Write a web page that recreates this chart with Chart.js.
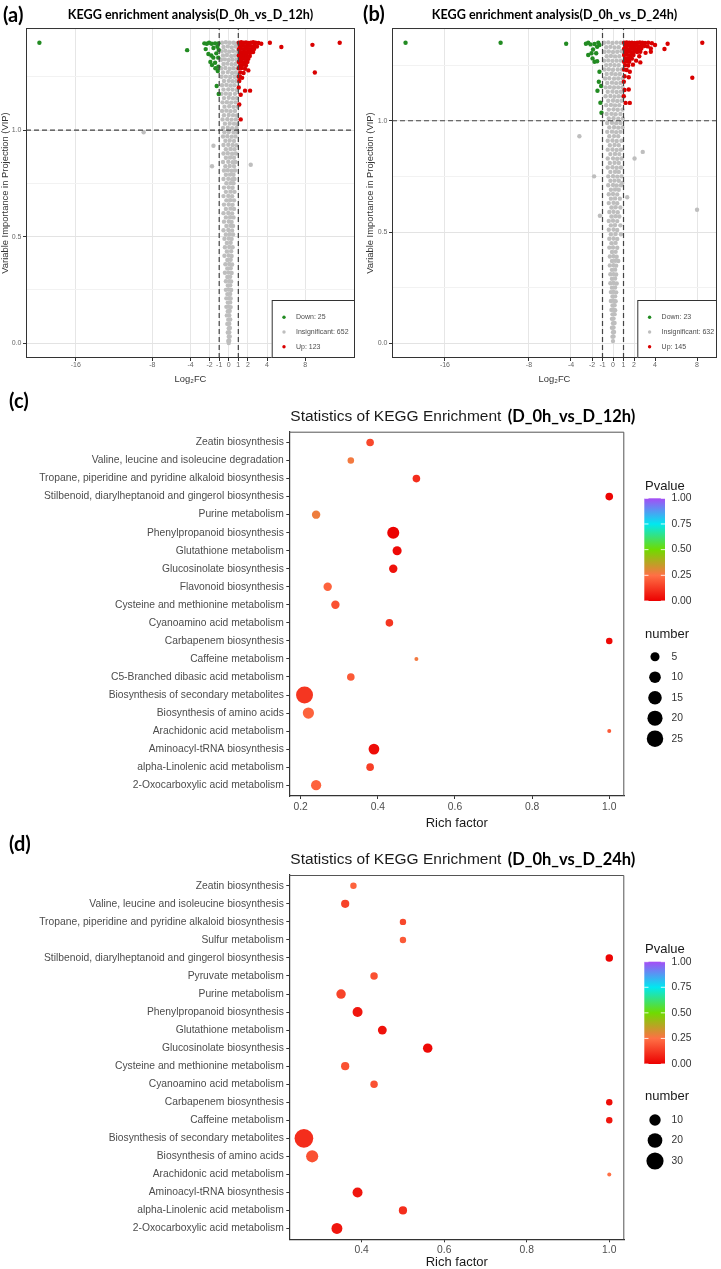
<!DOCTYPE html>
<html>
<head>
<meta charset="utf-8">
<script src="https://cdn.jsdelivr.net/npm/chart.js@4.4.1/dist/chart.umd.min.js"></script>
<style>
  html, body { margin: 0; padding: 0; background: #fff; }
  #page { position: relative; width: 721px; height: 1269px; overflow: hidden; }
  canvas { position: absolute; }
  .tag { position: absolute; font: bold 20px Lato, "Open Sans", sans-serif; line-height: 20px; color: #000; }
</style>
</head>
<body>
<div id="page">
  <canvas id="volA" width="360" height="385" style="left:0;top:0"></canvas>
  <canvas id="volB" width="361" height="385" style="left:360px;top:0"></canvas>
  <canvas id="enrC" width="721" height="445" style="left:0;top:385px"></canvas>
  <canvas id="enrD" width="721" height="439" style="left:0;top:830px"></canvas>
  <div class="tag" style="left:3px;top:4px">(a)</div>
  <div class="tag" style="left:363px;top:3px">(b)</div>
  <div class="tag" style="left:9px;top:390px">(c)</div>
  <div class="tag" style="left:9px;top:833px">(d)</div>
</div>
<script>
// ---------------- volcano plots (a), (b) ----------------
const fcTicks = [-16, -8, -4, -2, -1, 0, 1, 2, 4, 8];
const vipTicks = [0, 0.25, 0.5, 0.75, 1, 1.25];
const fcCut = [-1, 1];
const vipCut = 1;
const groupNames = ['Down', 'Insignificant', 'Up'];
const countsA = [25, 652, 123];
const countsB = [23, 632, 145];

// [log2FC, VIP] pairs
const downA = [[-19.8,1.41],[-4.35,1.375],[-2.55,1.407],[-2.3,1.405],[-2.06,1.41],[-1.78,1.405],[-1.43,1.407],[-1.09,1.407],
  [-1.19,1.391],[-1.05,1.376],[-2.41,1.38],[-2.13,1.357],[-1.82,1.35],[-1.61,1.34],[-1.92,1.32],[-1.75,1.305],[-1.43,1.316],
  [-1.09,1.297],[-1.15,1.277],[-1.26,1.207],[-1.05,1.169],[-1.3,1.36],[-1.6,1.385],[-1.1,1.34],[-1.4,1.29]];
const upA = [[1.05,1.41],[1.3,1.412],[1.55,1.41],[1.8,1.411],[2.05,1.409],[2.3,1.41],[2.55,1.412],[2.8,1.41],[3.1,1.409],[3.4,1.405],
  [1.15,1.395],[1.45,1.397],[1.7,1.394],[1.95,1.396],[2.2,1.395],[2.45,1.393],[2.7,1.396],[2.95,1.392],
  [1.05,1.38],[1.3,1.382],[1.6,1.379],[1.85,1.381],[2.1,1.38],[2.4,1.378],[2.65,1.381],
  [1.2,1.365],[1.5,1.366],[1.75,1.363],[2.0,1.365],[2.3,1.364],[2.55,1.366],
  [1.05,1.35],[1.35,1.351],[1.65,1.349],[1.9,1.35],[2.2,1.348],
  [1.2,1.335],[1.5,1.336],[1.8,1.334],[2.05,1.335],
  [1.05,1.32],[1.35,1.321],[1.65,1.319],[1.95,1.32],
  [1.2,1.305],[1.5,1.306],[1.8,1.304],
  [1.05,1.29],[1.35,1.291],[1.7,1.288],[2.05,1.28],
  [1.2,1.27],[1.55,1.268],[1.05,1.25],[1.18,1.25],[1.4,1.245],[1.1,1.23],
  [1.05,1.2],[1.7,1.185],[2.23,1.185],[1.25,1.166],[1.1,1.12],[1.25,1.05],
  [4.3,1.41],[5.5,1.39],[8.75,1.40],[11.6,1.41],[9.0,1.27]];
const insigA = [[-0.7,1.41],[-0.3,1.412],[0.1,1.41],[0.5,1.41],[0.85,1.408],
  [-0.55,1.39],[-0.1,1.393],[0.3,1.388],[0.7,1.392],
  [-0.75,1.37],[-0.35,1.372],[0.05,1.368],[0.45,1.371],[0.88,1.369],
  [-0.6,1.35],[-0.2,1.352],[0.25,1.348],[0.65,1.35],
  [-0.8,1.33],[-0.4,1.332],[0.0,1.329],[0.4,1.331],[0.82,1.33],
  [-0.55,1.31],[-0.15,1.312],[0.3,1.309],[0.7,1.31],
  [-0.78,1.29],[-0.35,1.291],[0.1,1.288],[0.5,1.29],[0.9,1.29],
  [-0.6,1.27],[-0.1,1.272],[0.35,1.268],[0.75,1.27],
  [-0.75,1.25],[-0.3,1.251],[0.15,1.249],[0.6,1.25],[0.88,1.252],
  [-0.5,1.23],[0.0,1.231],[0.4,1.229],[0.8,1.23],
  [-0.7,1.21],[-0.25,1.212],[0.2,1.209],[0.6,1.21],
  [-0.55,1.19],[-0.05,1.191],[0.4,1.19],[0.85,1.188],
  [-0.75,1.17],[-0.3,1.171],[0.15,1.169],[0.65,1.17],
  [-0.5,1.15],[0.0,1.152],[0.45,1.149],[0.85,1.15],
  [-0.65,1.13],[-0.2,1.131],[0.25,1.129],[0.7,1.13],
  [-0.45,1.11],[0.05,1.112],[0.5,1.109],[0.9,1.11],
  [-0.7,1.09],[-0.25,1.091],[0.2,1.089],[0.65,1.09],
  [-0.5,1.07],[0.0,1.071],[0.45,1.07],[0.85,1.069],
  [-0.65,1.05],[-0.15,1.051],[0.3,1.049],[0.75,1.05],
  [-0.4,1.03],[0.1,1.031],[0.55,1.03],[0.9,1.028],
  [-0.6,1.01],[-0.1,1.011],[0.35,1.009],[0.8,1.01],
  [-0.45,0.99],[0.0,0.991],[0.5,0.989],[0.88,0.99],
  [-0.6,0.97],[-0.15,0.971],[0.3,0.969],[0.7,0.97],
  [-0.35,0.95],[0.1,0.951],[0.55,0.949],
  [-0.55,0.93],[-0.05,0.931],[0.4,0.93],[0.8,0.929],
  [-0.3,0.91],[0.2,0.911],[0.6,0.91],
  [-0.55,0.89],[-0.1,0.891],[0.35,0.889],[0.75,0.89],
  [-0.3,0.87],[0.15,0.871],[0.55,0.87],
  [-0.6,0.85],[-0.05,0.851],[0.4,0.849],[0.7,0.85],
  [-0.35,0.83],[0.1,0.831],[0.55,0.83],
  [-0.5,0.81],[-0.1,0.811],[0.3,0.809],[0.65,0.81],
  [-0.3,0.79],[0.15,0.791],[0.5,0.79],
  [-0.55,0.77],[-0.05,0.771],[0.35,0.769],[0.6,0.77],
  [-0.25,0.75],[0.2,0.751],[0.5,0.75],
  [-0.5,0.73],[0.0,0.731],[0.4,0.729],
  [-0.3,0.71],[0.2,0.711],[0.6,0.71],
  [-0.55,0.69],[-0.05,0.691],[0.35,0.689],
  [-0.25,0.67],[0.15,0.671],[0.55,0.67],
  [-0.5,0.65],[0.0,0.651],[0.4,0.649],
  [-0.3,0.63],[0.2,0.631],[0.55,0.63],
  [-0.55,0.61],[-0.05,0.611],[0.35,0.609],
  [-0.3,0.59],[0.15,0.591],[0.5,0.59],
  [-0.5,0.57],[0.0,0.571],[0.3,0.569],
  [-0.25,0.55],[0.2,0.551],[0.45,0.55],
  [-0.55,0.53],[-0.05,0.531],[0.35,0.529],
  [-0.3,0.51],[0.1,0.511],[0.45,0.51],
  [-0.45,0.49],[0.0,0.491],[0.3,0.489],
  [-0.2,0.47],[0.2,0.471],
  [-0.4,0.45],[0.05,0.451],[0.4,0.45],
  [-0.2,0.43],[0.25,0.431],
  [-0.45,0.41],[0.0,0.411],[0.3,0.409],
  [-0.15,0.39],[0.2,0.391],
  [-0.35,0.37],[0.05,0.371],[0.35,0.369],
  [-0.15,0.35],[0.2,0.351],
  [-0.4,0.33],[0.0,0.331],[0.3,0.329],
  [-0.15,0.31],[0.15,0.311],
  [-0.3,0.29],[0.05,0.291],[0.25,0.289],
  [-0.1,0.27],[0.15,0.271],
  [-0.3,0.25],[0.0,0.251],[0.25,0.249],
  [-0.15,0.23],[0.15,0.231],
  [-0.25,0.21],[0.05,0.211],[0.2,0.209],
  [-0.1,0.19],[0.15,0.191],
  [-0.25,0.17],[0.0,0.171],[0.2,0.169],
  [-0.1,0.15],[0.1,0.151],
  [-0.2,0.13],[0.05,0.131],
  [-0.05,0.11],[0.15,0.111],
  [-0.15,0.09],[0.05,0.091],
  [0.0,0.07],[0.12,0.071],
  [-0.1,0.05],[0.05,0.051],
  [0.0,0.03],[0.1,0.031],
  [-0.05,0.01],[0.05,0.011],[0.0,0.0],
  [-8.9,0.99],[-1.6,0.926],[-1.75,0.83],[2.3,0.837]];

// [log2FC, VIP] pairs
const downB = [[-19.75,1.35],[-10.7,1.35],[-4.46,1.346],[-2.58,1.346],[-2.36,1.35],[-2.14,1.343],[-1.76,1.345],[-1.51,1.332],
  [-1.29,1.34],[-2.36,1.295],[-2.05,1.303],[-1.95,1.28],[-1.76,1.265],[-1.6,1.303],[-1.51,1.267],[-1.29,1.22],[-1.35,1.175],
  [-1.48,1.135],[-1.13,1.156],[-1.2,1.081],[-1.1,1.036],[-1.4,1.35],[-1.9,1.32]];
const upB = [[1.05,1.35],[1.3,1.352],[1.55,1.35],[1.8,1.351],[2.05,1.349],[2.3,1.35],[2.55,1.352],[2.8,1.35],[3.05,1.349],[3.35,1.35],[3.7,1.348],
  [1.15,1.337],[1.4,1.339],[1.7,1.336],[1.95,1.338],[2.2,1.337],[2.45,1.335],[2.7,1.338],[3.0,1.336],[3.3,1.334],
  [1.05,1.323],[1.3,1.325],[1.6,1.322],[1.85,1.324],[2.1,1.323],[2.4,1.321],[2.7,1.324],[3.6,1.325],
  [1.2,1.31],[1.5,1.311],[1.75,1.308],[2.0,1.31],[2.3,1.309],[2.6,1.31],[3.1,1.305],
  [1.05,1.295],[1.35,1.296],[1.65,1.294],[1.95,1.295],[2.5,1.29],
  [1.2,1.28],[1.5,1.281],[1.8,1.279],[2.2,1.27],
  [1.05,1.265],[1.35,1.266],[1.55,1.265],[2.6,1.262],
  [1.15,1.25],[1.45,1.248],[1.9,1.252],
  [1.05,1.23],[1.3,1.228],[1.6,1.22],[1.1,1.2],[1.5,1.195],
  [1.03,1.175],[1.1,1.138],[1.5,1.14],[1.03,1.11],[1.2,1.08],[1.6,1.08],
  [5.2,1.346],[4.9,1.322],[8.5,1.35],[7.55,1.193],[4.0,1.34],[3.6,1.31]];
const insigB = [[-0.85,1.35],[-0.45,1.352],[-0.05,1.349],[0.35,1.351],[0.75,1.35],
  [-0.65,1.33],[-0.25,1.332],[0.15,1.329],[0.55,1.33],
  [-0.8,1.31],[-0.4,1.311],[0.0,1.309],[0.4,1.31],[0.8,1.312],
  [-0.6,1.29],[-0.2,1.291],[0.2,1.289],[0.6,1.29],
  [-0.85,1.27],[-0.45,1.271],[-0.05,1.269],[0.35,1.27],[0.75,1.27],
  [-0.65,1.25],[-0.25,1.251],[0.15,1.249],[0.55,1.25],
  [-0.8,1.23],[-0.4,1.231],[0.0,1.229],[0.45,1.23],[0.85,1.23],
  [-0.6,1.21],[-0.15,1.211],[0.25,1.209],[0.65,1.21],
  [-0.75,1.19],[-0.35,1.191],[0.1,1.189],[0.5,1.19],[0.9,1.19],
  [-0.55,1.17],[-0.1,1.171],[0.3,1.169],[0.7,1.17],
  [-0.7,1.15],[-0.3,1.151],[0.1,1.149],[0.5,1.15],[0.9,1.15],
  [-0.5,1.13],[-0.05,1.131],[0.35,1.129],[0.75,1.13],
  [-0.7,1.11],[-0.25,1.111],[0.15,1.109],[0.55,1.11],[0.92,1.11],
  [-0.45,1.09],[0.0,1.091],[0.4,1.089],[0.8,1.09],
  [-0.65,1.07],[-0.2,1.071],[0.2,1.069],[0.6,1.07],
  [-0.4,1.05],[0.05,1.051],[0.45,1.049],[0.9,1.05],
  [-0.6,1.03],[-0.15,1.031],[0.25,1.029],[0.7,1.03],
  [-0.4,1.01],[0.05,1.011],[0.5,1.009],[0.93,1.01],
  [-0.55,0.99],[-0.1,0.991],[0.3,0.989],[0.7,0.99],
  [-0.35,0.97],[0.1,0.971],[0.5,0.969],[0.9,0.97],
  [-0.55,0.95],[-0.1,0.951],[0.3,0.949],[0.7,0.95],
  [-0.35,0.93],[0.1,0.931],[0.5,0.93],
  [-0.5,0.91],[-0.05,0.911],[0.35,0.909],[0.8,0.91],
  [-0.3,0.89],[0.15,0.891],[0.55,0.89],
  [-0.5,0.87],[-0.05,0.871],[0.35,0.869],[0.75,0.87],
  [-0.25,0.85],[0.2,0.851],[0.6,0.85],
  [-0.5,0.83],[0.0,0.831],[0.4,0.829],[0.8,0.83],
  [-0.3,0.81],[0.15,0.811],[0.55,0.81],
  [-0.5,0.79],[-0.05,0.791],[0.35,0.789],[0.75,0.79],
  [-0.25,0.77],[0.2,0.771],[0.55,0.77],
  [-0.45,0.75],[0.0,0.751],[0.4,0.749],[0.8,0.75],
  [-0.25,0.73],[0.15,0.731],[0.55,0.73],
  [-0.45,0.71],[0.0,0.711],[0.35,0.709],[0.75,0.71],
  [-0.2,0.69],[0.2,0.691],[0.55,0.69],
  [-0.4,0.67],[0.0,0.671],[0.4,0.669],
  [-0.2,0.65],[0.2,0.651],[0.65,0.65],
  [-0.4,0.63],[0.05,0.631],[0.4,0.629],
  [-0.15,0.61],[0.25,0.611],[0.7,0.61],
  [-0.35,0.59],[0.05,0.591],[0.45,0.589],
  [-0.15,0.57],[0.25,0.571],[0.6,0.57],
  [-0.4,0.55],[0.0,0.551],[0.4,0.549],
  [-0.2,0.53],[0.2,0.531],[0.7,0.53],
  [-0.4,0.51],[0.05,0.511],[0.4,0.509],
  [-0.2,0.49],[0.25,0.491],[0.75,0.49],
  [-0.35,0.47],[0.05,0.471],[0.4,0.469],
  [-0.15,0.45],[0.25,0.451],
  [-0.35,0.43],[0.0,0.431],[0.4,0.429],
  [-0.1,0.41],[0.25,0.411],
  [-0.3,0.39],[0.05,0.391],[0.35,0.389],
  [-0.1,0.37],[0.2,0.371],[0.5,0.37],
  [-0.3,0.35],[0.05,0.351],[0.3,0.349],
  [-0.1,0.33],[0.2,0.331],
  [-0.25,0.31],[0.05,0.311],[0.3,0.309],
  [-0.1,0.29],[0.2,0.291],
  [-0.25,0.27],[0.05,0.271],[0.35,0.269],
  [-0.1,0.25],[0.2,0.251],
  [-0.2,0.23],[0.05,0.231],[0.3,0.229],
  [-0.05,0.21],[0.2,0.211],
  [-0.2,0.19],[0.05,0.191],[0.25,0.189],
  [-0.05,0.17],[0.15,0.171],
  [-0.15,0.15],[0.05,0.151],[0.2,0.149],
  [-0.05,0.13],[0.15,0.131],
  [-0.1,0.11],[0.05,0.111],
  [0.0,0.09],[0.15,0.091],
  [-0.1,0.07],[0.05,0.071],
  [0.0,0.05],[0.1,0.051],
  [-0.05,0.03],[0.05,0.031],[0.0,0.01],
  [-3.2,0.93],[2.83,0.86],[2.05,0.83],[-1.8,0.75],[1.35,0.656],[8.0,0.6],[-1.25,0.573],[0.88,0.72]];

// ---------------- KEGG enrichment bubbles (c), (d) ----------------
const categoriesC = ['Zeatin biosynthesis', 'Valine, leucine and isoleucine degradation',
  'Tropane, piperidine and pyridine alkaloid biosynthesis', 'Stilbenoid, diarylheptanoid and gingerol biosynthesis',
  'Purine metabolism', 'Phenylpropanoid biosynthesis', 'Glutathione metabolism', 'Glucosinolate biosynthesis',
  'Flavonoid biosynthesis', 'Cysteine and methionine metabolism', 'Cyanoamino acid metabolism', 'Carbapenem biosynthesis',
  'Caffeine metabolism', 'C5-Branched dibasic acid metabolism', 'Biosynthesis of secondary metabolites',
  'Biosynthesis of amino acids', 'Arachidonic acid metabolism', 'Aminoacyl-tRNA biosynthesis',
  'alpha-Linolenic acid metabolism', '2-Oxocarboxylic acid metabolism'];
const richC = [0.38, 0.33, 0.5, 1.0, 0.24, 0.44, 0.45, 0.44, 0.27, 0.29, 0.43, 1.0, 0.5, 0.33, 0.21, 0.22, 1.0, 0.39, 0.38, 0.24];
const numberC = [3, 2, 3, 3, 4, 11, 5, 4, 4, 4, 3, 2, 1, 3, 27, 9, 1, 8, 3, 7];
const pvalueC = [0.16, 0.27, 0.1, 0.01, 0.28, 0.005, 0.02, 0.04, 0.22, 0.18, 0.12, 0.02, 0.27, 0.2, 0.12, 0.22, 0.2, 0.03, 0.14, 0.22];

const categoriesD = ['Zeatin biosynthesis', 'Valine, leucine and isoleucine biosynthesis',
  'Tropane, piperidine and pyridine alkaloid biosynthesis', 'Sulfur metabolism',
  'Stilbenoid, diarylheptanoid and gingerol biosynthesis', 'Pyruvate metabolism', 'Purine metabolism',
  'Phenylpropanoid biosynthesis', 'Glutathione metabolism', 'Glucosinolate biosynthesis',
  'Cysteine and methionine metabolism', 'Cyanoamino acid metabolism', 'Carbapenem biosynthesis', 'Caffeine metabolism',
  'Biosynthesis of secondary metabolites', 'Biosynthesis of amino acids', 'Arachidonic acid metabolism',
  'Aminoacyl-tRNA biosynthesis', 'alpha-Linolenic acid metabolism', '2-Oxocarboxylic acid metabolism'];
const richD = [0.38, 0.36, 0.5, 0.5, 1.0, 0.43, 0.35, 0.39, 0.45, 0.56, 0.36, 0.43, 1.0, 1.0, 0.26, 0.28, 1.0, 0.39, 0.5, 0.34];
const numberD = [2, 4, 2, 2, 3, 3, 6, 7, 5, 6, 4, 3, 2, 2, 37, 12, 1, 7, 4, 9];
const pvalueD = [0.22, 0.15, 0.16, 0.2, 0.01, 0.18, 0.15, 0.05, 0.04, 0.02, 0.18, 0.18, 0.03, 0.05, 0.1, 0.18, 0.25, 0.05, 0.1, 0.05];

const richTicks = [0.2, 0.4, 0.6, 0.8, 1.0];
const pTicks = [0, 0.25, 0.5, 0.75, 1];
const sizeKeysC = [5, 10, 15, 20, 25];
const sizeKeysD = [10, 20, 30];

// ---------------- shared styling ----------------
Chart.defaults.font.family = '"Liberation Sans", Arial, sans-serif';
const groupColors = ['#228b22', '#bebebe', '#d90000'];
const pStops = [[0, [236, 0, 0]], [0.25, [255, 112, 69]], [0.5, [111, 219, 0]], [0.75, [0, 232, 240]], [1, [166, 76, 245]]];

function pColor(p) {
  for (let i = 1; i < pStops.length; i++) {
    const [p1, c1] = pStops[i];
    const [p0, c0] = pStops[i - 1];
    if (p <= p1) {
      const t = (p - p0) / (p1 - p0);
      return 'rgb(' + c0.map((v, k) => Math.round(v + (c1[k] - v) * t)).join(',') + ')';
    }
  }
  return 'rgb(' + pStops[pStops.length - 1][1].join(',') + ')';
}

// ggplot-like area scale: radius grows with sqrt of the count
function sizeScale(numbers, rLo, rHi) {
  const lo = Math.min(...numbers), hi = Math.max(...numbers);
  return n => rLo + (rHi - rLo) * Math.sqrt((n - lo) / (hi - lo));
}

const pts = arr => arr.map(([x, y]) => ({ x, y }));
const isMajorVip = v => Math.abs(v * 2 - Math.round(v * 2)) < 1e-6;

function volcano(id, cfg) {
  const decor = {
    id: 'volDecor',
    afterDraw(chart) {
      const { ctx, chartArea: a } = chart;
      ctx.save();
      ctx.strokeStyle = '#333';
      ctx.lineWidth = 1;
      ctx.strokeRect(a.left + 0.5, a.top + 0.5, a.right - a.left - 1, a.bottom - a.top - 1);
      // legend box in the lower right corner
      const bx = cfg.boxLeft, by = cfg.boxTop;
      ctx.fillStyle = '#fff';
      ctx.fillRect(bx, by, a.right - bx, a.bottom - by);
      ctx.strokeRect(bx + 0.5, by + 0.5, a.right - bx - 1, a.bottom - by - 1);
      ctx.font = '7px "Liberation Sans"';
      ctx.textBaseline = 'middle';
      ctx.textAlign = 'left';
      groupNames.forEach((g, i) => {
        const y = by + 17.3 + i * 14.7;
        ctx.fillStyle = groupColors[i];
        ctx.beginPath();
        ctx.arc(bx + 12.3, y, 1.7, 0, Math.PI * 2);
        ctx.fill();
        ctx.fillStyle = '#4d4d4d';
        ctx.fillText(g + ': ' + cfg.counts[i], bx + 24.3, y);
      });
      ctx.restore();
    }
  };
  const dash = data => ({ data, showLine: true, borderColor: '#444', borderWidth: 1.2, borderDash: [5, 3], pointRadius: 0, order: 0 });
  const dots = (data, color, order) => ({ data: pts(data), backgroundColor: color, pointRadius: 2.2, borderWidth: 0, order });
  return new Chart(document.getElementById(id), {
    type: 'scatter',
    data: {
      datasets: [
        dash([{ x: fcCut[0], y: cfg.yMin }, { x: fcCut[0], y: cfg.yMax }]),
        dash([{ x: fcCut[1], y: cfg.yMin }, { x: fcCut[1], y: cfg.yMax }]),
        dash([{ x: cfg.xMin, y: vipCut }, { x: cfg.xMax, y: vipCut }]),
        dots(cfg.down, groupColors[0], 1),
        dots(cfg.up, groupColors[2], 1),
        dots(cfg.insig, groupColors[1], 2)
      ]
    },
    options: {
      responsive: false, animation: false, events: [], devicePixelRatio: 1,
      layout: { padding: { left: 0, top: 0, right: cfg.padRight, bottom: 0 } },
      plugins: {
        legend: { display: false },
        tooltip: { enabled: false },
        title: {
          display: true, text: cfg.title, fullSize: false, color: '#000',
          font: { family: 'Lato', weight: 'bold', size: 12.6, lineHeight: 1.2 },
          padding: { top: 7.3, bottom: 5.6 }
        }
      },
      scales: {
        x: {
          type: 'linear', min: cfg.xMin, max: cfg.xMax,
          afterBuildTicks: s => { s.ticks = fcTicks.map(v => ({ value: v })); },
          afterFit: s => { s.height = 27; },
          ticks: { autoSkip: false, maxRotation: 0, font: { size: 7 }, color: '#666', padding: 0, callback: v => String(v) },
          grid: { color: '#e6e6e6', tickLength: 3, tickColor: '#333' },
          border: { display: false },
          title: { display: true, text: 'Log₂FC', color: '#333', font: { size: 9.4, lineHeight: 1.2 }, padding: { top: 4.4, bottom: 0 } }
        },
        y: {
          type: 'linear', min: cfg.yMin, max: cfg.yMax,
          afterBuildTicks: s => { s.ticks = vipTicks.map(v => ({ value: v })); },
          afterFit: s => { s.width = cfg.axisW; },
          ticks: { autoSkip: false, font: { size: 7 }, color: '#666', padding: 1.5, callback: v => isMajorVip(v) ? v.toFixed(1) : '' },
          grid: {
            color: c => (c.tick && isMajorVip(c.tick.value)) ? '#e3e3e3' : '#f2f2f2',
            tickColor: c => (c.tick && isMajorVip(c.tick.value)) ? '#333' : 'rgba(0,0,0,0)',
            tickLength: 3
          },
          border: { display: false },
          title: { display: true, text: 'Variable Importance in Projection (VIP)', color: '#333', font: { size: 9.4, lineHeight: 1.2 }, padding: { top: cfg.yTitlePad, bottom: 0 } }
        }
      }
    },
    plugins: [decor]
  });
}

function enrichment(id, cfg) {
  const size = cfg.size;
  const decor = {
    id: 'enrDecor',
    afterDraw(chart) {
      const { ctx, chartArea: a } = chart;
      ctx.save();
      // top and right edges of the panel frame
      ctx.strokeStyle = '#555';
      ctx.lineWidth = 1;
      ctx.beginPath();
      ctx.moveTo(a.left, a.top + 0.5);
      ctx.lineTo(a.right - 0.5, a.top + 0.5);
      ctx.lineTo(a.right - 0.5, a.bottom);
      ctx.stroke();
      // title: plain lead-in plus bold comparison name
      ctx.textBaseline = 'middle';
      ctx.textAlign = 'left';
      const lead = 'Statistics of KEGG Enrichment ';
      ctx.font = '15.5px "Liberation Sans"';
      ctx.fillStyle = '#1a1a1a';
      ctx.fillText(lead, a.left + 1, cfg.titleY);
      const w = ctx.measureText(lead).width;
      ctx.font = 'bold 16.5px Lato';
      ctx.fillStyle = '#000';
      ctx.fillText(cfg.group, a.left + 3 + w, cfg.titleY);
      // Pvalue colour bar
      ctx.font = '13px "Liberation Sans"';
      ctx.fillStyle = '#1a1a1a';
      ctx.fillText('Pvalue', 645, cfg.barTop - 12.3);
      const g = ctx.createLinearGradient(0, cfg.barTop + cfg.barH, 0, cfg.barTop);
      pStops.forEach(([p, c]) => g.addColorStop(p, 'rgb(' + c.join(',') + ')'));
      ctx.fillStyle = g;
      ctx.fillRect(644.3, cfg.barTop, 20.7, cfg.barH);
      ctx.strokeStyle = 'rgba(255,255,255,0.85)';
      ctx.font = '10.3px "Liberation Sans"';
      pTicks.forEach(p => {
        const y = cfg.barTop + (1 - p) * cfg.barH;
        ctx.beginPath();
        ctx.moveTo(644.3, y); ctx.lineTo(648.5, y);
        ctx.moveTo(660.8, y); ctx.lineTo(665, y);
        ctx.stroke();
        ctx.fillStyle = '#333';
        ctx.fillText(p.toFixed(2), 671.5, y);
      });
      // size key
      ctx.font = '13px "Liberation Sans"';
      ctx.fillStyle = '#1a1a1a';
      ctx.fillText('number', 645, cfg.numTitleY);
      ctx.font = '10.3px "Liberation Sans"';
      cfg.keys.forEach((n, i) => {
        const y = cfg.keyTop + i * 20.5;
        ctx.fillStyle = '#000';
        ctx.beginPath();
        ctx.arc(655, y, size(n), 0, Math.PI * 2);
        ctx.fill();
        ctx.fillStyle = '#333';
        ctx.fillText(String(n), 671.5, y);
      });
      ctx.restore();
    }
  };
  const cats = cfg.categories;
  return new Chart(document.getElementById(id), {
    type: 'scatter',
    data: {
      datasets: [{
        data: cfg.rich.map((r, i) => ({ x: r, y: i })),
        pointRadius: c => c.dataIndex === undefined ? 3 : size(cfg.number[c.dataIndex]),
        backgroundColor: c => c.dataIndex === undefined ? '#f00' : pColor(cfg.pvalue[c.dataIndex]),
        borderWidth: 0
      }]
    },
    options: {
      responsive: false, animation: false, events: [], devicePixelRatio: 1,
      layout: { padding: { left: 0, top: cfg.top, right: 96.7, bottom: 0 } },
      plugins: { legend: { display: false }, tooltip: { enabled: false } },
      scales: {
        x: {
          type: 'linear', min: cfg.xMin, max: cfg.xMax,
          afterBuildTicks: s => { s.ticks = richTicks.filter(v => v >= cfg.xMin).map(v => ({ value: v })); },
          afterFit: s => { s.height = cfg.xAxisH; },
          ticks: { autoSkip: false, maxRotation: 0, font: { size: 10.3 }, color: '#4d4d4d', padding: 2, callback: v => v.toFixed(1) },
          grid: { drawOnChartArea: false, tickLength: 3, tickColor: '#333' },
          border: { display: true, color: '#333', width: 1.2 },
          title: { display: true, text: 'Rich factor', color: '#1a1a1a', font: { size: 13, lineHeight: 1 }, padding: { top: cfg.xTitlePad, bottom: 0 } }
        },
        y: {
          type: 'linear', reverse: true, min: -0.6, max: cats.length - 0.4,
          afterBuildTicks: s => { s.ticks = cats.map((c, i) => ({ value: i })); },
          afterFit: s => { s.width = 289.3; },
          ticks: { autoSkip: false, font: { size: 10.3 }, color: '#4d4d4d', padding: 2.5, callback: v => cats[v] },
          grid: { drawOnChartArea: false, tickLength: 3, tickColor: '#333' },
          border: { display: true, color: '#333', width: 1.2 }
        }
      }
    },
    plugins: [decor]
  });
}

volcano('volA', {
  title: 'KEGG enrichment analysis(D_0h_vs_D_12h)', counts: countsA,
  down: downA, up: upA, insig: insigA,
  xMin: -21.2, xMax: 13.2, yMin: -0.07, yMax: 1.479,
  padRight: 5, axisW: 26, yTitlePad: 0, boxLeft: 271.7, boxTop: 300
});
volcano('volB', {
  title: 'KEGG enrichment analysis(D_0h_vs_D_24h)', counts: countsB,
  down: downB, up: upB, insig: insigB,
  xMin: -21.04, xMax: 9.9, yMin: -0.066, yMax: 1.4165,
  padRight: 1, axisW: 32, yTitlePad: 4.4, boxLeft: 277.3, boxTop: 300
});
enrichment('enrC', {
  categories: categoriesC, rich: richC, number: numberC, pvalue: pvalueC,
  group: '(D_0h_vs_D_12h)', size: sizeScale(numberC, 2, 8.5), keys: sizeKeysC,
  xMin: 0.1705, xMax: 1.039, top: 46.7, xAxisH: 34, xTitlePad: 2.5,
  titleY: 31.7, barTop: 113.3, barH: 102.7, numTitleY: 249, keyTop: 271.7
});
enrichment('enrD', {
  categories: categoriesD, rich: richD, number: numberD, pvalue: pvalueD,
  group: '(D_0h_vs_D_24h)', size: sizeScale(numberD, 2, 9.34), keys: sizeKeysD,
  xMin: 0.2246, xMax: 1.0364, top: 45, xAxisH: 29.7, xTitlePad: 0,
  titleY: 30, barTop: 131.7, barH: 102.3, numTitleY: 266.7, keyTop: 290
});
</script>
</body>
</html>
